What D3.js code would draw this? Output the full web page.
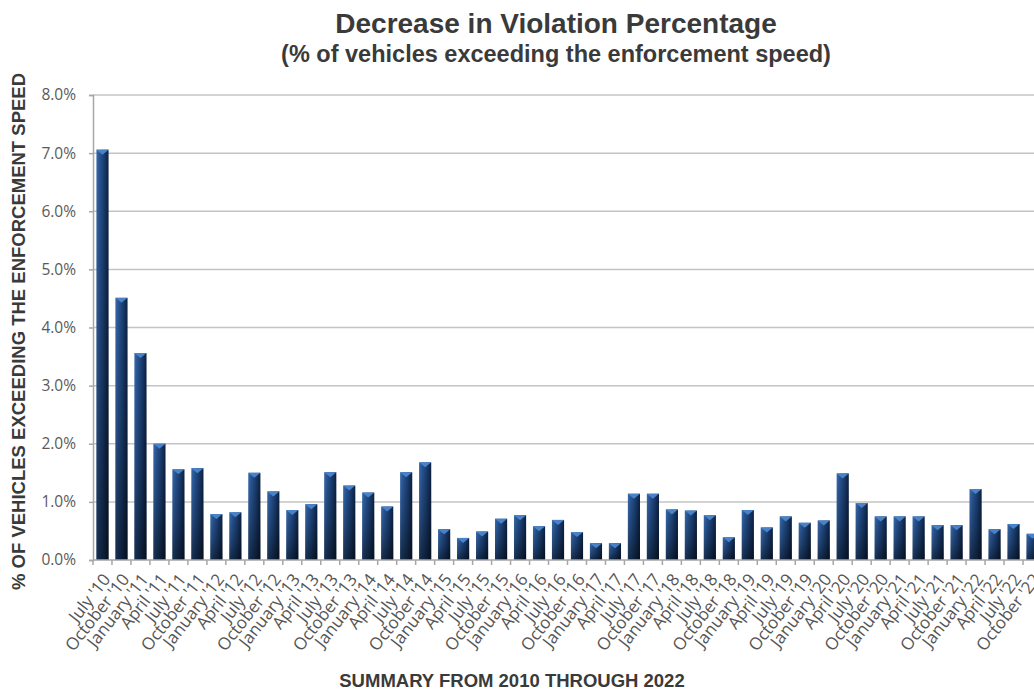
<!DOCTYPE html>
<html>
<head>
<meta charset="utf-8">
<script src="https://cdn.jsdelivr.net/npm/d3@7/dist/d3.min.js"></script>
<style>
  html, body { margin: 0; padding: 0; background: #ffffff; overflow: hidden; }
  svg { display: block; }
</style>
</head>
<body>
<svg id="chart" width="1034" height="690"></svg>
<script>
// Quarterly survey periods, July 2010 through October 2022
const categories = [
  "July '10", "October '10", "January '11", "April '11", "July '11", "October '11",
  "January '12", "April '12", "July '12", "October '12", "January '13", "April '13",
  "July '13", "October '13", "January '14", "April '14", "July '14", "October '14",
  "January '15", "April '15", "July '15", "October '15", "January '16", "April '16",
  "July '16", "October '16", "January '17", "April '17", "July '17", "October '17",
  "January '18", "April '18", "July '18", "October '18", "January '19", "April '19",
  "July '19", "October '19", "January '20", "April '20", "July '20", "October '20",
  "January '21", "April '21", "July '21", "October '21", "January '22", "April '22",
  "July '22", "October '22"
];

// Share of vehicles exceeding the enforcement speed (%)
const violationPct = [
  7.06, 4.51, 3.56, 2.00, 1.56, 1.58,
  0.79, 0.82, 1.50, 1.18, 0.86, 0.96,
  1.51, 1.28, 1.16, 0.92, 1.51, 1.68,
  0.53, 0.38, 0.49, 0.71, 0.77, 0.58,
  0.69, 0.48, 0.29, 0.29, 1.14, 1.14,
  0.87, 0.85, 0.77, 0.39, 0.86, 0.56,
  0.75, 0.64, 0.68, 1.49, 0.98, 0.75,
  0.75, 0.75, 0.60, 0.60, 1.22, 0.53,
  0.62, 0.45
];

const yTicks = [0, 1, 2, 3, 4, 5, 6, 7, 8];

const titleText = "Decrease in Violation Percentage";
const subtitleText = "(% of vehicles exceeding the enforcement speed)";
const yTitleText = "% OF VEHICLES EXCEEDING THE ENFORCEMENT SPEED";
const xTitleText = "SUMMARY FROM 2010 THROUGH 2022";

const svg = d3.select("#chart");
const plot = { left: 93, right: 1042, top: 95, bottom: 560 };

const x = d3.scaleBand()
  .domain(categories)
  .range([plot.left, plot.right])
  .paddingInner(0.36)
  .paddingOuter(0.18);

const y = d3.scaleLinear()
  .domain([0, 8])
  .range([plot.bottom, plot.top]);

// Bar shading: lit on the left, falling off to the right and toward the base
const defs = svg.append("defs");
const hGrad = defs.append("linearGradient").attr("id", "barH")
  .attr("x1", "0").attr("y1", "0").attr("x2", "1").attr("y2", "0");
[["0%", "#3a6cae"], ["22%", "#2a5898"], ["60%", "#1b3f73"], ["100%", "#0c2142"]]
  .forEach(([o, c]) => hGrad.append("stop").attr("offset", o).attr("stop-color", c));
const vGrad = defs.append("linearGradient").attr("id", "barV")
  .attr("x1", "0").attr("y1", "0").attr("x2", "0").attr("y2", "1");
[["0%", "#000", 0], ["55%", "#000", 0.25], ["100%", "#000", 0.55]]
  .forEach(([o, c, a]) => vGrad.append("stop").attr("offset", o)
    .attr("stop-color", c).attr("stop-opacity", a));

// Horizontal gridlines
svg.append("g")
  .selectAll("line")
  .data(yTicks.filter(t => t > 0))
  .join("line")
  .attr("x1", plot.left).attr("x2", 1034)
  .attr("y1", d => y(d)).attr("y2", d => y(d))
  .attr("stroke", "#c4c4c4").attr("stroke-width", 1.5);

// Y axis
const yAxis = svg.append("g")
  .attr("transform", `translate(${plot.left},0)`)
  .call(d3.axisLeft(y).tickValues(yTicks).tickSize(4).tickPadding(13)
    .tickFormat(d => d.toFixed(1) + "%"));
yAxis.select(".domain").attr("stroke", "#a6a6a6").attr("stroke-width", 1.5);
yAxis.selectAll(".tick line").attr("stroke", "#a6a6a6").attr("stroke-width", 1.5);
yAxis.selectAll(".tick text")
  .attr("fill", "#5a5a5a")
  .style("font-family", "'Open Sans', sans-serif")
  .style("font-size", "15.5px");

// Bars
const bars = svg.append("g");
const bw = x.bandwidth();
bars.selectAll("rect.body")
  .data(violationPct)
  .join("rect")
  .attr("class", "body")
  .attr("x", (d, i) => x(categories[i]))
  .attr("y", d => y(d))
  .attr("width", bw)
  .attr("height", d => y(0) - y(d))
  .attr("fill", "url(#barH)");
bars.selectAll("rect.shade")
  .data(violationPct)
  .join("rect")
  .attr("class", "shade")
  .attr("x", (d, i) => x(categories[i]))
  .attr("y", d => y(d))
  .attr("width", bw)
  .attr("height", d => y(0) - y(d))
  .attr("fill", "url(#barV)");
// Bevelled cap on each bar
bars.selectAll("path.cap")
  .data(violationPct)
  .join("path")
  .attr("class", "cap")
  .attr("d", (d, i) => {
    const x0 = x(categories[i]), yt = y(d);
    return `M${x0},${yt}L${x0 + bw},${yt}L${x0 + bw / 2},${yt + 5}Z`;
  })
  .attr("fill", "#4a82c8");

// X axis line with tick marks on category boundaries
const step = x.step();
const xg = svg.append("g");
xg.append("line")
  .attr("x1", plot.left).attr("x2", 1034)
  .attr("y1", y(0)).attr("y2", y(0))
  .attr("stroke", "#a6a6a6").attr("stroke-width", 1.5);
xg.selectAll("line.tick")
  .data(categories)
  .join("line")
  .attr("class", "tick")
  .attr("x1", d => x(d) - step * x.paddingInner() / 2)
  .attr("x2", d => x(d) - step * x.paddingInner() / 2)
  .attr("y1", y(0)).attr("y2", y(0) + 5)
  .attr("stroke", "#a6a6a6").attr("stroke-width", 1.5);

// Slanted category labels
xg.selectAll("text")
  .data(categories)
  .join("text")
  .attr("transform", d => `translate(${x(d) + bw / 2 + 4},${y(0) + 16}) rotate(-52)`)
  .attr("text-anchor", "end")
  .attr("dy", "0.35em")
  .attr("fill", "#555555")
  .style("font-family", "'Open Sans', sans-serif")
  .style("font-size", "17px")
  .text(d => d);

// Titles
svg.append("text")
  .attr("x", 556).attr("y", 33)
  .attr("text-anchor", "middle")
  .attr("fill", "#3a3a3a")
  .style("font-family", "'Liberation Sans', Arial, sans-serif")
  .style("font-weight", "bold")
  .style("font-size", "28px")
  .text(titleText);
svg.append("text")
  .attr("x", 556).attr("y", 62)
  .attr("text-anchor", "middle")
  .attr("fill", "#3a3a3a")
  .style("font-family", "'Liberation Sans', Arial, sans-serif")
  .style("font-weight", "bold")
  .style("font-size", "23.5px")
  .text(subtitleText);

svg.append("text")
  .attr("transform", `translate(25,${(75 + 588) / 2}) rotate(-90)`)
  .attr("text-anchor", "middle")
  .attr("fill", "#3a3a3a")
  .style("font-family", "'Liberation Sans', Arial, sans-serif")
  .style("font-weight", "bold")
  .style("font-size", "18.5px")
  .text(yTitleText);

svg.append("text")
  .attr("x", 512).attr("y", 687)
  .attr("text-anchor", "middle")
  .attr("fill", "#3a3a3a")
  .style("font-family", "'Liberation Sans', Arial, sans-serif")
  .style("font-weight", "bold")
  .style("font-size", "18.5px")
  .text(xTitleText);
</script>
</body>
</html>
